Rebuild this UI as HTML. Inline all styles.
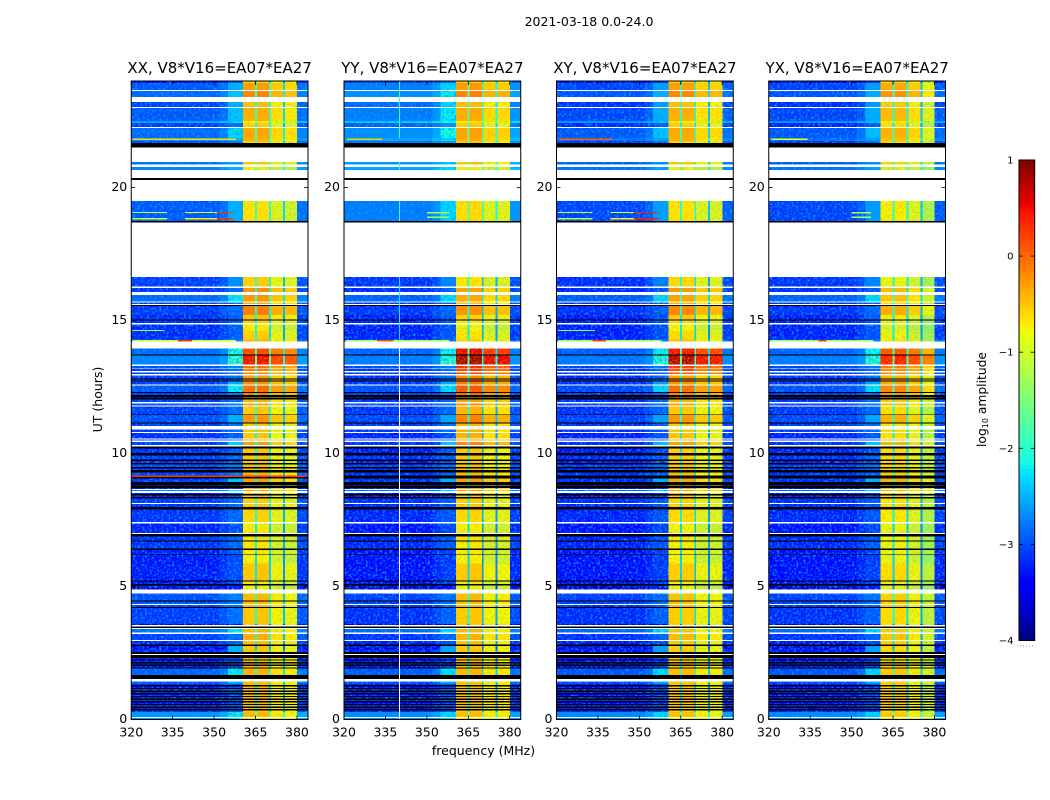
<!DOCTYPE html>
<html lang="en">
<head>
<meta charset="utf-8">
<title>2021-03-18 baseline spectrograms</title>
<style>
  html, body { margin: 0; padding: 0; background: #fff; }
  #chart { display: block; width: 1050px; height: 800px; }
  text { font-family: "DejaVu Sans", "Liberation Sans", sans-serif; fill: #000; }
</style>
</head>
<body>
<svg id="chart" xmlns="http://www.w3.org/2000/svg" width="1050" height="800" viewBox="0 0 1050 800">
  <defs>
    <filter id="grain" x="0" y="0" width="100%" height="100%" color-interpolation-filters="sRGB">
      <feTurbulence type="fractalNoise" baseFrequency="0.42" numOctaves="2" seed="4"/>
      <feColorMatrix type="matrix" values="0 0 0 0 0  0 0 0 0 0.62  0 0 0 0 1  2.6 0 0 0 -1.15"/>
    </filter>
    <filter id="grain-warm" x="0" y="0" width="100%" height="100%" color-interpolation-filters="sRGB">
      <feTurbulence type="fractalNoise" baseFrequency="0.5" numOctaves="2" seed="9"/>
      <feColorMatrix type="matrix" values="0 0 0 0 1  0 0 0 0 0.62  0 0 0 0 0  1.5 0 0 0 -0.62"/>
    </filter>
    <pattern id="speckle" patternUnits="userSpaceOnUse" width="170" height="170">
      <rect width="170" height="170" filter="url(#grain)"/>
    </pattern>
    <pattern id="speckle-warm" patternUnits="userSpaceOnUse" width="170" height="170">
      <rect width="170" height="170" filter="url(#grain-warm)"/>
    </pattern>
  </defs>
  <text x="589" y="26" font-size="12.5" text-anchor="middle">2021-03-18 0.0-24.0</text>
  <text x="483.5" y="755" font-size="12.5" text-anchor="middle">frequency (MHz)</text>
  <text x="0" y="0" font-size="12.5" text-anchor="middle" transform="translate(102 399.5) rotate(-90)">UT (hours)</text>
  <text x="0" y="0" font-size="12.3" text-anchor="middle" transform="translate(986 399.5) rotate(-90)">log<tspan font-size="8" dy="2">10</tspan><tspan dy="-2"> amplitude</tspan></text>
  <g id="panels"></g>
  <g id="colorbar"></g>
</svg>
<script>
// ---- chart data ----
const W = null;   // flagged (white) band
const K = 'k';    // blanked (black) band

const panelTitles = ['XX, V8*V16=EA07*EA27', 'YY, V8*V16=EA07*EA27', 'XY, V8*V16=EA07*EA27', 'YX, V8*V16=EA07*EA27'];
const xTickValues = [320, 335, 350, 365, 380];
const yTickValues = [0, 5, 10, 15, 20];
const colorTickValues = [1, 0, -1, -2, -3, -4];
const colorTickLabels = ['1', '0', '\u22121', '\u22122', '\u22123', '\u22124'];

// frequency zones (MHz): zone edges, whether each follows the band background or signal
const zoneEdges = [320, 352, 355, 360.5, 364.8, 365.5, 369.9, 370.6, 374.9, 375.6, 380.1, 384];
const zoneFollowsSignal = [0, 0, 0, 1, 0, 1, 0, 1, 0, 1, 0];

// log10-amplitude offset of each zone, per polarisation
const zoneOffsetXX = [-0.24, -0.1, 0.02, 0, 0.85, 0.02, 0.75, -0.28, 0.45, -0.35, -0.1];
const zoneOffsetYY = [-0.24, -0.1, 0.02, 0.02, 0.85, 0.05, 0.5, -0.25, 0.45, -0.25, -0.1];
const zoneOffsetXY = [-0.24, -0.1, 0.02, 0, 0.85, 0, 0.75, -0.3, 0.45, -0.3, -0.1];
const zoneOffsetYX = [-0.24, -0.1, 0.02, -0.02, 0.85, 0, 0.75, -0.22, 0.45, -0.55, -0.1];

// epoch-wise polarisation shift relative to the band table
const epochEnds = [3.6, 10.3, 13, 14.2, 16.7, 18, 24];
const signalShiftXX = [0, -0.04, 0, 0, 0, 0, 0];
const signalShiftYY = [-0.05, -0.08, 0.1, 0.35, -0.15, 0, 0];
const signalShiftXY = [-0.05, -0.08, 0, 0.3, -0.05, 0, 0];
const signalShiftYX = [-0.1, -0.14, -0.12, -0.05, -0.25, 0, -0.05];
const backShiftXX = [0, 0, 0, 0, 0, 0, 0];
const backShiftYY = [-0.05, -0.08, -0.05, -0.05, -0.05, 0, 0.2];
const backShiftXY = [-0.08, -0.1, -0.08, -0.08, -0.08, 0, -0.1];
const backShiftYX = [-0.08, -0.08, -0.05, -0.05, -0.05, 0, -0.12];

// time bands: [end UT (h), background level, signal level, optional 355-360 MHz shoulder level]
const bandRows = [
  [0.05, -2.4, -0.7, -2.2], [0.09, W], [0.28, -2.4, -0.45, -2.2], [0.34, -3, -0.55],
  [0.39, K], [0.44, -3.1, -0.5], [0.49, K], [0.54, -3, -0.5], [0.59, K], [0.64, -3.1, -0.45],
  [0.69, K], [0.74, -3, -0.45], [0.79, K], [0.84, -3.1, -0.45], [0.89, K], [0.94, -3, -0.45],
  [0.99, K], [1.04, -3.1, -0.45], [1.09, K], [1.14, -3, -0.5], [1.19, K], [1.24, -3.1, -0.5],
  [1.29, K], [1.35, -3, -0.5],
  [1.42, -2.7, -0.45, -2.4], [1.53, W], [1.67, K], [1.91, -2.7, -0.42, -2.2],
  [1.96, K], [2.01, -3.1, -0.5], [2.06, K], [2.11, -3.1, -0.5], [2.16, K], [2.21, -3.1, -0.5],
  [2.26, K], [2.31, -3.1, -0.5], [2.37, K],
  [2.42, K], [2.47, W], [2.53, K], [2.63, -3, -0.5, -2.5], [2.76, -3.3, -0.55, -2.5], [2.81, K],
  [2.96, -3, -0.5], [2.99, W], [3.21, -2.9, -0.4], [3.27, W], [3.4, -2.6, -0.45, -2.2],
  [3.44, W], [3.5, K], [3.55, W], [3.59, -3.6, -0.6], [4.19, -2.9, -0.5],
  [4.22, K], [4.31, -2.9, -0.4], [4.35, W], [4.43, -2.8, -0.45], [4.48, K],
  [4.73, -2.8, -0.42], [4.88, W], [5.04, -3.4, -0.8], [5.1, K], [5.18, -3.1, -0.7], [5.23, K],
  [5.87, -3.08, -0.5], [6.2, -3.1, -0.75], [6.23, K], [6.38, -3.05, -0.7], [6.42, K],
  [6.69, -2.95, -0.7], [6.73, K], [6.88, -2.95, -0.65], [6.97, K], [7.01, W],
  [7.37, -3.05, -0.72], [7.42, W], [7.89, -2.95, -0.58], [7.99, K], [8.1, -2.95, -0.5],
  [8.14, W], [8.3, -2.9, -0.55], [8.36, K], [8.42, -3.1, -0.5], [8.47, K], [8.52, -3.1, -0.5],
  [8.58, W], [8.63, -2.6, -0.2, -2.2], [8.67, W], [8.71, -3.2, -0.3], [8.77, K], [8.8, -3.1, -0.7],
  [8.93, K], [9.06, -2.9, -0.25, -2.4], [9.12, K], [9.18, K], [9.28, -2.9, -0.4], [9.37, K],
  [9.43, -2.9, -0.5], [9.49, K], [9.59, -2.8, -0.45], [9.64, K], [9.72, -3, -0.5], [9.77, K],
  [9.93, -2.9, -0.5], [10.02, K], [10.18, -3, -0.5], [10.27, K], [10.31, W],
  [10.44, -2.9, -0.3, -2.3], [10.48, W], [10.52, -2.9, -0.4], [10.56, W], [10.76, -3, -0.55],
  [10.81, W], [10.9, -2.9, -0.55], [11.03, W], [11.12, -2.9, -0.55], [11.16, K],
  [11.44, -2.8, -0.25, -2.5], [11.47, K], [11.76, -2.9, -0.55], [11.8, W], [11.87, -2.8, -0.35],
  [11.94, W], [12.03, -2.9, -0.4], [12.1, K], [12.13, -3, -0.4], [12.19, K],
  [12.28, -2.9, -0.1], [12.31, K], [12.55, -2.75, 0, -2.2], [12.59, W], [12.7, -2.9, -0.2, -2.5],
  [12.74, K], [12.78, -3, -0.3], [12.82, K], [12.93, -2.9, -0.3], [12.98, W],
  [13.05, -2.9, -0.1], [13.1, W], [13.19, -2.9, -0.1], [13.22, W], [13.29, -2.8, 0],
  [13.34, W], [13.68, -2.5, 0.5, -1.9], [13.72, K], [13.94, -2.65, 0.2, -2.1], [14.2, W],
  [14.28, -2.75, -0.45], [14.6, -3, -0.6], [14.84, -3, -0.75], [14.9, W], [14.99, -3, -0.6],
  [15.03, K], [15.2, -3, -0.5], [15.54, -2.9, -0.1], [15.58, K], [15.61, W], [15.67, -2.9, -0.4],
  [15.71, W], [15.95, -2.65, -0.25, -2.2], [16.07, W], [16.21, -2.95, -0.2], [16.28, W], [16.63, -2.9, -0.6, -2.7],
  [18.68, W], [18.74, K], [19.49, -2.75, -0.7, -2.5], [20.28, W], [20.35, K], [20.65, W],
  [20.77, -2.5, -0.9], [20.86, W], [20.95, -2.6, -0.55], [21.5, W], [21.67, K], [21.74, -2.8, -0.6],
  [21.85, -2.5, -0.4], [22.23, -2.65, -0.35, -2.3], [22.27, W], [22.42, -2.9, -0.6], [22.5, -2.3, -0.8],
  [22.99, -2.75, -0.4, -2.4], [23.02, W], [23.21, -2.85, -0.5, -2.5], [23.4, W], [23.63, -2.65, -0.15, -2.4],
  [23.66, W], [23.93, -2.75, -0.3, -2.5], [24, -3.1, -0.6]
];

// narrow RFI features: [panel, UT start, UT end, freq start, freq end, level (null = white)]
const rfiRows = [
  [0, 9.12, 9.18, 320, 384, 0.3],
  [0, 19.03, 19.08, 320.5, 333, -1.1], [0, 19.03, 19.08, 339.5, 351, -0.9], [0, 19.03, 19.08, 351, 357, 0.3],
  [0, 18.8, 18.85, 320.5, 333, -1.1], [0, 18.8, 18.85, 339.5, 351, -0.7], [0, 18.8, 18.85, 351, 357, 0.3],
  [2, 19.03, 19.08, 320.5, 333, -1.1], [2, 19.03, 19.08, 339.5, 348, -0.9], [2, 19.03, 19.08, 348, 357, 0.4],
  [2, 18.8, 18.85, 320.5, 333, -1.1], [2, 18.8, 18.85, 339.5, 348, -0.7], [2, 18.8, 18.85, 348, 357, 0.4],
  [1, 19.02, 19.07, 350, 358, -1.2], [1, 18.85, 18.9, 350, 358, -1.2],
  [3, 19.02, 19.07, 350, 357, -1.2], [3, 18.85, 18.9, 350, 357, -1.2],
  [0, 14.2, 14.26, 320.5, 358, -1], [0, 14.2, 14.26, 337, 342, 0.3],
  [1, 14.2, 14.26, 320.5, 358, -1.3], [1, 14.2, 14.26, 332, 338, 0.1],
  [2, 14.2, 14.26, 320.5, 358, -1.3], [2, 14.2, 14.26, 333, 338, 0.2],
  [3, 14.2, 14.26, 320.5, 358, -1.3], [3, 14.2, 14.26, 338, 341, 0.3],
  [0, 14.6, 14.64, 320.5, 332, -1.3], [2, 14.6, 14.64, 320.5, 334, -1.4],
  [0, 21.78, 21.84, 320.5, 358, -0.6], [1, 21.78, 21.84, 321, 334, -0.5],
  [2, 21.78, 21.84, 321, 340, 0.1], [3, 21.78, 21.84, 321, 334, -0.8],
  [1, 0, 14.2, 340, 340.3, W], [1, 18.74, 19.49, 340, 340.3, -1.9], [1, 21.85, 24, 340, 340.3, -1.9],
  [1, 20.65, 20.95, 340, 340.3, -1.9], [1, 14.28, 16.63, 340, 340.3, -2.2]
];

const zoneOffsets = [zoneOffsetXX, zoneOffsetYY, zoneOffsetXY, zoneOffsetYX];
const signalShifts = [signalShiftXX, signalShiftYY, signalShiftXY, signalShiftYX];
const backShifts = [backShiftXX, backShiftYY, backShiftXY, backShiftYX];

// ---- layout & scales ----
const NS = 'http://www.w3.org/2000/svg';
const plotLefts = [131.25, 344, 556.5, 768.75];
const plotWidth = 176.75;
const plotTop = 81;
const plotBottom = 719.5;
const barLeft = 1019, barRight = 1034.7, barTop = 160, barBottom = 640.5;
const xMin = 320, xMax = 384, yMin = 0, yMax = 24, cMin = -4, cMax = 1;

function xScale(panel, f) { return plotLefts[panel] + (f - xMin) / (xMax - xMin) * plotWidth; }
function yScale(t) { return plotBottom - (t - yMin) / (yMax - yMin) * (plotBottom - plotTop); }
function cScale(v) { return barBottom - (v - cMin) / (cMax - cMin) * (barBottom - barTop); }

function ramp(x, pts) {
  for (let i = 1; i < pts.length; i++) {
    if (x <= pts[i][0]) {
      const a = pts[i - 1], b = pts[i];
      return a[1] + (x - a[0]) / (b[0] - a[0]) * (b[1] - a[1]);
    }
  }
  return pts[pts.length - 1][1];
}
function jet(level) {
  const x = Math.max(0, Math.min(1, (level - cMin) / (cMax - cMin)));
  const r = ramp(x, [[0, 0], [0.35, 0], [0.66, 1], [0.89, 1], [1, 0.5]]);
  const g = ramp(x, [[0, 0], [0.125, 0], [0.375, 1], [0.64, 1], [0.91, 0], [1, 0]]);
  const b = ramp(x, [[0, 0.5], [0.11, 1], [0.34, 1], [0.65, 0], [1, 0]]);
  return 'rgb(' + Math.round(r * 255) + ',' + Math.round(g * 255) + ',' + Math.round(b * 255) + ')';
}
function epochIndex(t) {
  for (let i = 0; i < epochEnds.length; i++) { if (t <= epochEnds[i]) return i; }
  return epochEnds.length - 1;
}
function mk(tag, attrs, parent, text) {
  const el = document.createElementNS(NS, tag);
  for (const k in attrs) el.setAttribute(k, attrs[k]);
  if (text !== undefined) el.textContent = text;
  parent.appendChild(el);
  return el;
}

// ---- panels ----
const panelsGroup = document.getElementById('panels');
plotLefts.forEach(function (left, p) {
  const g = mk('g', {}, panelsGroup);
  
  

  const bg = mk('rect', { x: left, y: plotTop, width: plotWidth, height: plotBottom - plotTop, fill: '#fff' }, g);
  
  

  const heat = mk('g', { 'shape-rendering': 'crispEdges' }, g);
  
  

  let start = 0;
  bandRows.forEach(function (row) {
    const end = row[0];
    const back = row[1];
    const signal = row[2];
    const shoulder = row[3];
    const mid = (start + end) / 2;
    const y0 = yScale(end);
    const h = yScale(start) - y0;
    if (back === K) {
      const blk = mk('rect', { x: left, y: y0, width: plotWidth, height: h, fill: '#000' }, heat);
      
      
    } else if (back !== W) {
      const e = epochIndex(mid);
      for (let z = 0; z < zoneOffsets[p].length; z++) {
        const base = zoneFollowsSignal[z]
          ? signal + signalShifts[p][e]
          : back + backShifts[p][e];
        let level = base + zoneOffsets[p][z];
        if (z === 2 && shoulder !== undefined) level = shoulder + backShifts[p][e];
        const x0 = xScale(p, zoneEdges[z]);
        const x1 = xScale(p, zoneEdges[z + 1]);
        const cell = mk('rect', { x: x0, y: y0, width: x1 - x0, height: h, fill: jet(level) }, heat);
        
        
        if (z < 3 || z === 10) {
          const tex = mk('rect', { x: x0, y: y0, width: x1 - x0, height: h, fill: 'url(#speckle)' }, heat);
          
          
        } else if (zoneFollowsSignal[z]) {
          const tex = mk('rect', { x: x0, y: y0, width: x1 - x0, height: h, fill: 'url(#speckle-warm)' }, heat);
          
          
        }
      }
    }
    start = end;
  });

  rfiRows.forEach(function (r) {
    if (r[0] !== p) return;
    const x0 = xScale(p, r[3]);
    const y0 = yScale(r[2]);
    const line = mk('rect', {
      x: x0, y: y0,
      width: Math.max(1, xScale(p, r[4]) - x0),
      height: Math.max(1, yScale(r[1]) - y0),
      fill: r[5] === W ? '#fff' : jet(r[5])
    }, heat);
    
    
  });

  // ticks
  xTickValues.forEach(function (v) {
    const x = xScale(p, v);
    const tb = mk('line', { x1: x, x2: x, y1: plotBottom, y2: plotBottom - 4, stroke: '#000', 'stroke-width': 0.8 }, g);
    
    
    const tt = mk('line', { x1: x, x2: x, y1: plotTop, y2: plotTop + 4, stroke: '#000', 'stroke-width': 0.8 }, g);
    
    
    const lab = mk('text', { x: x, y: plotBottom + 17, 'font-size': 12.5, 'text-anchor': 'middle' }, g, String(v));
    
    
  });
  yTickValues.forEach(function (v) {
    const y = yScale(v);
    const tl = mk('line', { x1: left, x2: left + 4, y1: y, y2: y, stroke: '#000', 'stroke-width': 0.8 }, g);
    
    
    const tr = mk('line', { x1: left + plotWidth, x2: left + plotWidth - 4, y1: y, y2: y, stroke: '#000', 'stroke-width': 0.8 }, g);
    
    
    const lab = mk('text', { x: left - 4, y: y + 3.5, 'font-size': 12.5, 'text-anchor': 'end' }, g, String(v));
    
    
  });

  const frame = mk('rect', { x: left, y: plotTop, width: plotWidth, height: plotBottom - plotTop, fill: 'none', stroke: '#000', 'stroke-width': 1 }, g);
  
  

  const title = mk('text', { x: left + plotWidth / 2, y: 73, 'font-size': 15, 'text-anchor': 'middle' }, g, panelTitles[p]);
  
  
});

// ---- colorbar ----
const barGroup = document.getElementById('colorbar');
const barSteps = 120;
for (let i = 0; i < barSteps; i++) {
  const v0 = cMin + (cMax - cMin) * i / barSteps;
  const v1 = cMin + (cMax - cMin) * (i + 1) / barSteps;
  const seg = mk('rect', {
    x: barLeft, y: cScale(v1), width: barRight - barLeft, height: cScale(v0) - cScale(v1) + 0.6,
    fill: jet((v0 + v1) / 2), 'shape-rendering': 'crispEdges'
  }, barGroup);
  
  
}
colorTickValues.forEach(function (v, i) {
  const y = cScale(v);
  const a = mk('line', { x1: barLeft, x2: barLeft + 4, y1: y, y2: y, stroke: '#000', 'stroke-width': 0.8 }, barGroup);
  
  
  const b = mk('line', { x1: barRight, x2: barRight - 4, y1: y, y2: y, stroke: '#000', 'stroke-width': 0.8 }, barGroup);
  
  
  const lab = mk('text', { x: 1013.5, y: y + 3.5, 'font-size': 10, 'text-anchor': 'end' }, barGroup, colorTickLabels[i]);
  
  
});
const barFrame = mk('rect', { x: barLeft, y: barTop, width: barRight - barLeft, height: barBottom - barTop, fill: 'none', stroke: '#000', 'stroke-width': 1 }, barGroup);


const barDots = mk('line', { x1: 1017, x2: 1035, y1: 646, y2: 646, stroke: '#999', 'stroke-width': 1, 'stroke-dasharray': '1 2' }, barGroup);


</script>
</body>
</html>
